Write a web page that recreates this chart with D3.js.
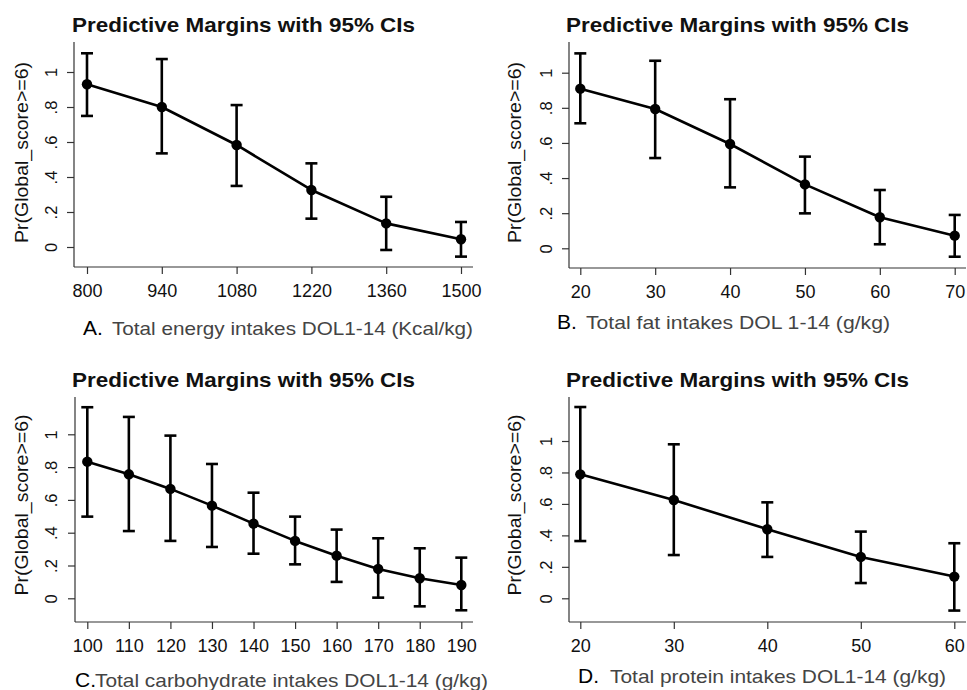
<!DOCTYPE html>
<html>
<head>
<meta charset="utf-8">
<script src="https://cdn.jsdelivr.net/npm/d3@7"></script>
<style>
  html, body { margin: 0; padding: 0; background: #fff; }
  svg { display: block; }
  text { font-family: "Liberation Sans", Arial, sans-serif; }
</style>
</head>
<body>
<svg id="chart" width="967" height="690"></svg>
<script>
// ---------- data ----------
const chartTitle = "Predictive Margins with 95% CIs";
const yAxisTitle = "Pr(Global_score>=6)";
const yTicks = [0, 0.2, 0.4, 0.6, 0.8, 1];
const yTickLabels = ["0", ".2", ".4", ".6", ".8", "1"];

const xA = [800, 940, 1080, 1220, 1360, 1500];
const mA = [0.930, 0.800, 0.583, 0.326, 0.135, 0.044];
const loA = [0.749, 0.535, 0.349, 0.162, -0.017, -0.055];
const hiA = [1.107, 1.074, 0.811, 0.478, 0.287, 0.143];

const xB = [20, 30, 40, 50, 60, 70];
const mB = [0.909, 0.793, 0.594, 0.364, 0.177, 0.072];
const loB = [0.712, 0.514, 0.347, 0.199, 0.023, -0.048];
const hiB = [1.110, 1.068, 0.849, 0.522, 0.332, 0.190];

const xC = [100, 110, 120, 130, 140, 150, 160, 170, 180, 190];
const mC = [0.833, 0.756, 0.667, 0.565, 0.455, 0.350, 0.260, 0.179, 0.122, 0.081];
const loC = [0.498, 0.410, 0.350, 0.313, 0.272, 0.207, 0.100, 0.004, -0.049, -0.073];
const hiC = [1.165, 1.106, 0.992, 0.819, 0.644, 0.498, 0.419, 0.366, 0.305, 0.248];

const xD = [20, 30, 40, 50, 60];
const mD = [0.788, 0.625, 0.439, 0.263, 0.138];
const loD = [0.364, 0.275, 0.263, 0.097, -0.078];
const hiD = [1.216, 0.979, 0.610, 0.424, 0.350];

const panelLetters = ["A.", "B.", "C.", "D."];
const xTitles = [
  "Total energy intakes DOL1-14 (Kcal/kg)",
  "Total fat intakes DOL 1-14 (g/kg)",
  "Total carbohydrate intakes DOL1-14 (g/kg)",
  "Total protein intakes DOL1-14 (g/kg)"
];

// ---------- layout (positions only) ----------
const layouts = [
  { axisX: 74,  top: 42,  bottom: 267, right: 473, xr: [87, 461],  yr: [247, 72],
    titleX: 72,  titleY: 32,  ytX: 28,  ytY: 152.5, tickLabX: 56.5,
    letX: 83,  capX: 112, capW: 361, capY: 334.5 },
  { axisX: 569, top: 42,  bottom: 268, right: 966, xr: [580.3, 954.7], yr: [248.3, 72.7],
    titleX: 566, titleY: 32,  ytX: 521, ytY: 152.5, tickLabX: 552,
    letX: 557, capX: 586, capW: 304, capY: 329 },
  { axisX: 75,  top: 397, bottom: 622, right: 473, xr: [87.3, 461.3], yr: [598.3, 434.3],
    titleX: 72,  titleY: 386.7, ytX: 28, ytY: 505, tickLabX: 56.5,
    letX: 75,  capX: 95,  capW: 393, capY: 686.5 },
  { axisX: 569, top: 397, bottom: 622, right: 966, xr: [580.3, 954.3], yr: [598.3, 441],
    titleX: 566, titleY: 386.7, ytX: 521, ytY: 505, tickLabX: 552,
    letX: 578, capX: 610, capW: 336, capY: 683 }
];

const panels = [
  { x: xA, m: mA, lo: loA, hi: hiA },
  { x: xB, m: mB, lo: loB, hi: hiB },
  { x: xC, m: mC, lo: loC, hi: hiC },
  { x: xD, m: mD, lo: loD, hi: hiD }
];

const svg = d3.select("#chart");

panels.forEach((p, i) => {
  const L = layouts[i];
  const g = svg.append("g");

  const x = d3.scaleLinear().domain([p.x[0], p.x[p.x.length - 1]]).range(L.xr);
  const y = d3.scaleLinear().domain([0, 1]).range(L.yr);

  // title
  g.append("text")
    .attr("x", L.titleX).attr("y", L.titleY)
    .attr("font-size", 21).attr("font-weight", "bold").attr("fill", "#111")
    .attr("textLength", 343).attr("lengthAdjust", "spacingAndGlyphs")
    .text(chartTitle);

  // axis lines
  g.append("line")
    .attr("x1", L.axisX).attr("x2", L.axisX).attr("y1", L.top).attr("y2", L.bottom)
    .attr("stroke", "#333").attr("stroke-width", 1.2);
  g.append("line")
    .attr("x1", L.axisX).attr("x2", L.right).attr("y1", L.bottom).attr("y2", L.bottom)
    .attr("stroke", "#333").attr("stroke-width", 1.2);

  // x axis ticks
  const xAxis = d3.axisBottom(x).tickValues(p.x).tickSize(7).tickPadding(10)
    .tickFormat(d3.format("d"));
  const gx = g.append("g").attr("transform", `translate(0,${L.bottom})`).call(xAxis);
  gx.select(".domain").remove();
  gx.selectAll(".tick line").attr("stroke", "#333").attr("stroke-width", 1.2);
  gx.selectAll(".tick text").attr("font-size", 18).attr("fill", "#111")
    .attr("font-family", "'Liberation Sans', Arial, sans-serif");

  // y axis ticks
  const yAxis = d3.axisLeft(y).tickValues(yTicks).tickSize(7)
    .tickFormat((d, k) => yTickLabels[k]);
  const gy = g.append("g").attr("transform", `translate(${L.axisX},0)`).call(yAxis);
  gy.select(".domain").remove();
  gy.selectAll(".tick line").attr("stroke", "#333").attr("stroke-width", 1.2);
  gy.selectAll(".tick text")
    .attr("x", null).attr("dy", null)
    .attr("transform", `translate(${L.tickLabX - L.axisX},0) rotate(-90)`)
    .attr("text-anchor", "middle")
    .attr("font-size", 16.5).attr("fill", "#111")
    .attr("font-family", "'Liberation Sans', Arial, sans-serif");

  // y axis title
  g.append("text")
    .attr("transform", `translate(${L.ytX},${L.ytY}) rotate(-90)`)
    .attr("text-anchor", "middle")
    .attr("font-size", 19).attr("fill", "#111")
    .attr("textLength", 181).attr("lengthAdjust", "spacingAndGlyphs")
    .text(yAxisTitle);

  // x axis title
  g.append("text")
    .attr("x", L.letX).attr("y", L.capY)
    .attr("font-size", 21).attr("fill", "#000")
    .text(panelLetters[i]);
  g.append("text")
    .attr("x", L.capX).attr("y", L.capY)
    .attr("font-size", 18.5).attr("fill", "#444")
    .attr("textLength", L.capW).attr("lengthAdjust", "spacingAndGlyphs")
    .text(xTitles[i]);

  const idx = d3.range(p.x.length);

  // error bars
  const eb = g.append("g").attr("stroke", "#000").attr("stroke-width", 2.6).attr("fill", "none");
  eb.selectAll("line.v").data(idx).join("line").attr("class", "v")
    .attr("x1", k => x(p.x[k])).attr("x2", k => x(p.x[k]))
    .attr("y1", k => y(p.lo[k])).attr("y2", k => y(p.hi[k]));
  eb.selectAll("line.ct").data(idx).join("line").attr("class", "ct")
    .attr("x1", k => x(p.x[k]) - 6).attr("x2", k => x(p.x[k]) + 6)
    .attr("y1", k => y(p.hi[k])).attr("y2", k => y(p.hi[k]));
  eb.selectAll("line.cb").data(idx).join("line").attr("class", "cb")
    .attr("x1", k => x(p.x[k]) - 6).attr("x2", k => x(p.x[k]) + 6)
    .attr("y1", k => y(p.lo[k])).attr("y2", k => y(p.lo[k]));

  // connecting line
  const line = d3.line().x(k => x(p.x[k])).y(k => y(p.m[k]));
  g.append("path").datum(idx).attr("d", line)
    .attr("fill", "none").attr("stroke", "#000").attr("stroke-width", 2.6)
    .attr("stroke-linejoin", "round");

  // markers
  g.selectAll("circle.pt").data(idx).join("circle").attr("class", "pt")
    .attr("cx", k => x(p.x[k])).attr("cy", k => y(p.m[k])).attr("r", 5.2)
    .attr("fill", "#000");
});
</script>
</body>
</html>
